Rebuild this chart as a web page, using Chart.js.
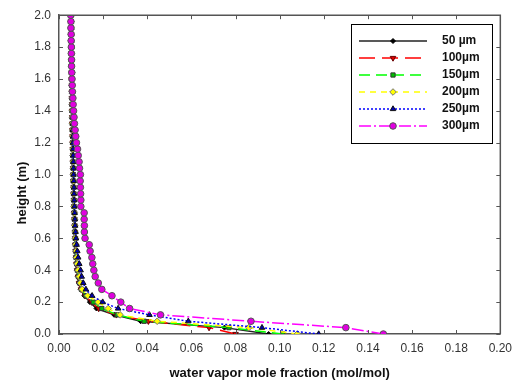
<!DOCTYPE html>
<html>
<head>
<meta charset="utf-8">
<script src="https://cdn.jsdelivr.net/npm/chart.js@4.4.1/dist/chart.umd.min.js"></script>
<style>
  html, body { margin: 0; padding: 0; background: #fff; }
  #wrap { width: 519px; height: 382px; }
</style>
</head>
<body>
<div id="wrap"><canvas id="vapor"></canvas></div>
<script>
// heights above the surface (m), same grid for every particle size
var heights = [0.00,0.04,0.08,0.12,0.16,0.20,0.24,0.28,0.32,0.36,0.40,
  0.44,0.48,0.52,0.56,0.60,0.64,0.68,0.72,0.76,0.80,0.84,0.88,0.92,0.96,1.00,
  1.04,1.08,1.12,1.16,1.20,1.24,1.28,1.32,1.36,1.40,1.44,1.48,1.52,1.56,1.60,
  1.64,1.68,1.72,1.76,1.80,1.84,1.88,1.92,1.96,2.00];

// water vapor mole fraction (mol/mol) per particle size
var vap50 = [0.095,0.075,0.037,0.025,0.017,0.0140,0.0115,0.0098,0.0090,0.0085,0.0081,
  0.0078,0.0076,0.0074,0.0073,0.0072,0.0071,0.0070,0.0069,0.0068,0.0067,0.0066,0.0066,0.0065,0.0064,0.0064,
  0.0063,0.0063,0.0062,0.0062,0.0061,0.0061,0.0060,0.0060,0.0059,0.0059,0.0058,0.0058,0.0058,0.0057,0.0057,
  0.0057,0.0056,0.0056,0.0056,0.0055,0.0055,0.0055,0.0054,0.0054,0.0054];
var vap100 = [0.080,0.068,0.0405,0.026,0.018,0.0148,0.0118,0.0100,0.0091,0.0086,0.0082,
  0.0079,0.0077,0.0075,0.0074,0.0073,0.0072,0.0071,0.0070,0.0069,0.0068,0.0067,0.0066,0.0066,0.0065,0.0064,
  0.0064,0.0063,0.0063,0.0062,0.0062,0.0061,0.0061,0.0060,0.0060,0.0059,0.0059,0.0058,0.0058,0.0058,0.0057,
  0.0057,0.0057,0.0056,0.0056,0.0056,0.0055,0.0055,0.0055,0.0054,0.0054];
var vap150 = [0.1014,0.077,0.0386,0.0264,0.0194,0.0155,0.0122,0.0102,0.0093,0.0088,0.0083,
  0.0080,0.0077,0.0075,0.0074,0.0073,0.0072,0.0071,0.0070,0.0069,0.0068,0.0067,0.0067,0.0066,0.0065,0.0065,
  0.0064,0.0064,0.0063,0.0063,0.0062,0.0062,0.0061,0.0061,0.0060,0.0060,0.0059,0.0059,0.0058,0.0058,0.0058,
  0.0057,0.0057,0.0057,0.0056,0.0056,0.0056,0.0055,0.0055,0.0055,0.0054];
var vap200 = [0.108,0.086,0.0445,0.0277,0.0223,0.0177,0.0130,0.0105,0.0097,0.0092,0.0087,
  0.0083,0.0080,0.0078,0.0076,0.0074,0.0073,0.0072,0.0071,0.0070,0.0069,0.0068,0.0067,0.0067,0.0066,0.0065,
  0.0065,0.0064,0.0064,0.0063,0.0063,0.0062,0.0062,0.0061,0.0061,0.0060,0.0060,0.0059,0.0059,0.0058,0.0058,
  0.0058,0.0057,0.0057,0.0057,0.0056,0.0056,0.0056,0.0055,0.0055,0.0055];
var vap250 = [0.1177,0.092,0.0586,0.041,0.0268,0.0198,0.0150,0.0122,0.0110,0.0103,0.0098,
  0.0092,0.0087,0.0083,0.0080,0.0077,0.0075,0.0073,0.0072,0.0071,0.0070,0.0069,0.0068,0.0068,0.0067,0.0066,
  0.0066,0.0065,0.0064,0.0064,0.0063,0.0063,0.0062,0.0062,0.0061,0.0061,0.0060,0.0060,0.0059,0.0059,0.0058,
  0.0058,0.0058,0.0057,0.0057,0.0057,0.0056,0.0056,0.0056,0.0055,0.0055];
var vap300 = [0.147,0.130,0.087,0.046,0.032,0.028,0.024,0.0194,0.0178,0.0164,0.0158,
  0.0153,0.0149,0.0141,0.0137,0.0118,0.0115,0.0115,0.0114,0.0114,0.0099,0.0099,0.0098,0.0097,0.0096,0.0097,
  0.0093,0.0091,0.0087,0.0084,0.0079,0.0076,0.0073,0.0070,0.0068,0.0066,0.0064,0.0063,0.0061,0.0060,0.0059,
  0.0058,0.0057,0.0057,0.0056,0.0056,0.0055,0.0055,0.0054,0.0054,0.0053];

var sizeLabels = ["50 µm", "100µm", "150µm", "200µm", "250µm", "300µm"];
var xTicks = [0.00,0.02,0.04,0.06,0.08,0.10,0.12,0.14,0.16,0.18,0.20];
var yTicks = [0.0,0.2,0.4,0.6,0.8,1.0,1.2,1.4,1.6,1.8,2.0];

function pairUp(xs){
  var pts = [];
  for(var i = 0; i < xs.length && i < heights.length; i++){
    pts.push({x: xs[i], y: heights[i]});
  }
  return pts;
}

function series(label, xs, line, dash, fill, edge, style, radius, rot, order){
  return {
    label: label,
    data: pairUp(xs),
    showLine: true,
    tension: 0,
    borderColor: line,
    borderWidth: 1.5,
    borderDash: dash,
    pointStyle: style,
    pointRadius: radius,
    pointRotation: rot,
    pointBackgroundColor: fill,
    pointBorderColor: edge,
    pointBorderWidth: 1,
    order: order
  };
}

var datasets = [
  series(sizeLabels[0], vap50, '#222', [], '#000', '#000', 'rectRot', 2.5, 0, 5),
  series(sizeLabels[1], vap100, '#ff0000', [16,7], '#e00000', '#600', 'triangle', 3.2, 180, 4),
  series(sizeLabels[2], vap150, '#00ff00', [11,6], '#00c000', '#333', 'rect', 3, 0, 3),
  series(sizeLabels[3], vap200, '#ffff00', [6,5], '#ffff00', '#777', 'rectRot', 3.3, 0, 2),
  series(sizeLabels[4], vap250, '#0000ff', [2,2], '#0000b0', '#111', 'triangle', 3.2, 0, 1),
  series(sizeLabels[5], vap300, '#ff00ff', [12,3,2,3], '#e000e0', '#555', 'circle', 3.3, 0, 0)
];

// frame on top/right plus inward tick marks on all four sides
var frameTicks = {
  id: 'frameTicks',
  afterDraw: function(chart){
    var ctx = chart.ctx, a = chart.chartArea;
    var xs = chart.scales.x, ys = chart.scales.y;
    ctx.save();
    ctx.strokeStyle = '#555';
    ctx.lineWidth = 1.5;
    ctx.beginPath();
    ctx.moveTo(a.left, a.top); ctx.lineTo(a.right, a.top); ctx.lineTo(a.right, a.bottom);
    ctx.stroke();
    ctx.lineWidth = 1;
    ctx.beginPath();
    xTicks.forEach(function(v){
      var px = Math.round(xs.getPixelForValue(v)) + 0.5;
      ctx.moveTo(px, a.bottom); ctx.lineTo(px, a.bottom - 4);
      ctx.moveTo(px, a.top); ctx.lineTo(px, a.top + 4);
    });
    yTicks.forEach(function(v){
      var py = Math.round(ys.getPixelForValue(v)) + 0.5;
      ctx.moveTo(a.left, py); ctx.lineTo(a.left + 4, py);
      ctx.moveTo(a.right, py); ctx.lineTo(a.right - 4, py);
    });
    ctx.stroke();

    // y axis title
    ctx.fillStyle = '#111';
    ctx.font = 'bold 13px "Liberation Sans", Arial, sans-serif';
    ctx.textAlign = 'center';
    ctx.textBaseline = 'middle';
    ctx.translate(22, 193);
    ctx.rotate(-Math.PI / 2);
    ctx.fillText('height (m)', 0, 0);
    ctx.restore();
  }
};

// boxed legend with a line sample and the marker in its middle
var boxLegend = {
  id: 'boxLegend',
  afterDraw: function(chart){
    var ctx = chart.ctx;
    ctx.save();
    ctx.fillStyle = '#fff';
    ctx.fillRect(351, 24, 142, 119);
    ctx.strokeStyle = '#000';
    ctx.lineWidth = 1;
    ctx.strokeRect(351.5, 24.5, 141, 119);
    chart.data.datasets.forEach(function(ds, i){
      var y = Math.round(41 + i * 17);
      ctx.strokeStyle = ds.borderColor;
      ctx.lineWidth = 1.5;
      ctx.setLineDash(ds.borderDash);
      ctx.beginPath();
      ctx.moveTo(359, y); ctx.lineTo(427, y);
      ctx.stroke();
      ctx.setLineDash([]);
      ctx.fillStyle = ds.pointBackgroundColor;
      ctx.strokeStyle = ds.pointBorderColor;
      ctx.lineWidth = 1;
      Chart.helpers.drawPoint(ctx, {
        pointStyle: ds.pointStyle, radius: ds.pointRadius,
        rotation: ds.pointRotation, borderWidth: 1
      }, 393, y);
      ctx.fillStyle = '#111';
      ctx.font = 'bold 12px "Liberation Sans", Arial, sans-serif';
      ctx.textAlign = 'left';
      ctx.textBaseline = 'middle';
      ctx.fillText(ds.label, 442, y);
    });
    ctx.restore();
  }
};

new Chart(document.getElementById('vapor'), {
  type: 'scatter',
  data: { datasets: datasets },
  plugins: [frameTicks, boxLegend],
  options: {
    responsive: true,
    maintainAspectRatio: false,
    animation: false,
    layout: { padding: { top: 15, right: 18, left: 0, bottom: 0 } },
    plugins: { legend: { display: false }, tooltip: { enabled: false } },
    scales: {
      x: {
        type: 'linear', min: 0, max: 0.2,
        afterFit: function(s){ s.height = 48; },
        afterBuildTicks: function(s){ s.ticks = xTicks.map(function(v){ return {value: v}; }); },
        grid: { display: false, drawTicks: false },
        border: { display: true, color: '#555', width: 1.5 },
        ticks: {
          padding: 7, color: '#333', maxRotation: 0,
          font: { family: '"Liberation Sans", Arial, sans-serif', size: 12 },
          callback: function(v){ return Number(v).toFixed(2); }
        },
        title: {
          display: true, text: 'water vapor mole fraction (mol/mol)', color: '#111',
          padding: { top: 0, bottom: 1 },
          font: { family: '"Liberation Sans", Arial, sans-serif', size: 13, weight: 'bold' }
        }
      },
      y: {
        type: 'linear', min: 0, max: 2,
        afterFit: function(s){ s.width = 59; },
        afterBuildTicks: function(s){ s.ticks = yTicks.map(function(v){ return {value: v}; }); },
        grid: { display: false, drawTicks: false },
        border: { display: true, color: '#555', width: 1.5 },
        ticks: {
          padding: 8, color: '#333',
          font: { family: '"Liberation Sans", Arial, sans-serif', size: 12 },
          callback: function(v){ return Number(v).toFixed(1); }
        }
      }
    }
  }
});
</script>
</body>
</html>
